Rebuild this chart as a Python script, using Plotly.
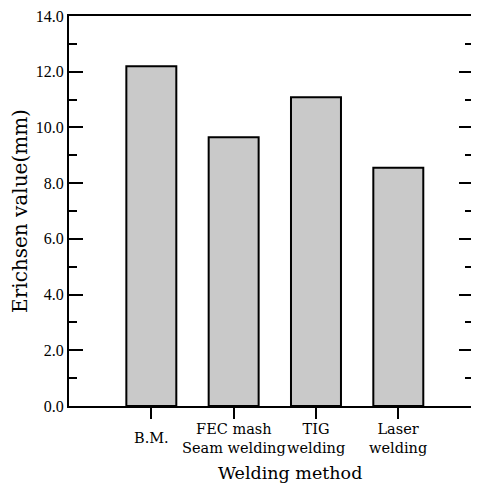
import plotly.graph_objects as go

categories = ["B.M.", "FEC mash<br>Seam welding", "TIG<br>welding", "Laser<br>welding"]
values = [12.2, 9.65, 11.08, 8.55]
y_tick_vals = [0, 2, 4, 6, 8, 10, 12, 14]
y_tick_text = ["0.0", "2.0", "4.0", "6.0", "8.0", "10.0", "12.0", "14.0"]

x_idx = list(range(len(categories)))

fig = go.Figure()
fig.add_trace(go.Bar(
    x=x_idx, y=values, width=0.607,
    marker=dict(
        color="#c0c0c0",
        line=dict(color="black", width=2),
        pattern=dict(shape=".", size=2, solidity=0.5, fgcolor="#8c8c8c", bgcolor="#dadada"),
    ),
    showlegend=False, hoverinfo="skip",
))
# invisible trace on the right axis so its mirrored ticks are drawn
fig.add_trace(go.Scatter(x=[0], y=[0], yaxis="y2", mode="markers",
                         marker=dict(opacity=0), showlegend=False, hoverinfo="skip"))

for xi, lab in zip(x_idx, categories):
    fig.add_annotation(x=xi, y=0, xref="x", yref="paper", yanchor="middle",
                       yshift=-32, text=lab, showarrow=False,
                       font=dict(family="DejaVu Serif", size=14.5, color="black"))

fig.add_annotation(x=0.55, y=0, xref="paper", yref="paper", yanchor="middle",
                   yshift=-67, text="Welding method", showarrow=False,
                   font=dict(family="DejaVu Serif", size=17.5, color="black"))

fig.update_layout(
    width=463, height=478,
    margin=dict(l=61, r=0, t=6, b=80),
    plot_bgcolor="white", paper_bgcolor="white",
    font=dict(family="DejaVu Serif", color="black"),
    xaxis=dict(
        range=[-1.0, 3.883], showgrid=False, zeroline=False,
        showline=True, linecolor="black", linewidth=2, mirror=True,
        tickmode="array", tickvals=x_idx, showticklabels=False,
        ticks="outside", ticklen=11, tickwidth=2, tickcolor="black",
    ),
    yaxis=dict(
        range=[0, 14], showgrid=False, zeroline=False,
        showline=True, linecolor="black", linewidth=2,
        tickmode="array", tickvals=y_tick_vals, ticktext=y_tick_text,
        ticks="inside", ticklen=14, tickwidth=2, tickcolor="black",
        minor=dict(dtick=1, ticks="inside", ticklen=8, tickwidth=2, tickcolor="black"),
        tickfont=dict(family="Liberation Serif", size=16, color="black"),
        ticklabeloverflow="allow",
        title=dict(text="Erichsen value(mm)", standoff=6,
                   font=dict(family="DejaVu Serif", size=20, color="black")),
    ),
    yaxis2=dict(
        range=[0, 14], overlaying="y", side="right", showgrid=False, zeroline=False,
        showline=False, showticklabels=False,
        tickmode="array", tickvals=y_tick_vals,
        ticks="inside", ticklen=12, tickwidth=2, tickcolor="black",
        minor=dict(dtick=1, ticks="inside", ticklen=6, tickwidth=2, tickcolor="black"),
    ),
)

fig.write_html("out.html")
